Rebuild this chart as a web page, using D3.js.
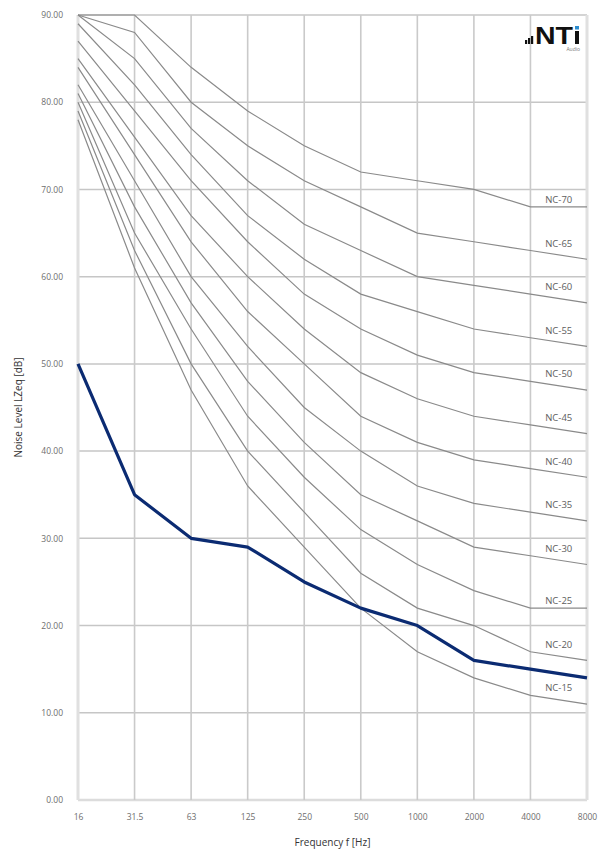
<!DOCTYPE html>
<html>
<head>
<meta charset="utf-8">
<script src="https://cdn.jsdelivr.net/npm/d3@7"></script>
<style>
  html, body { margin: 0; padding: 0; background: #fff; }
  svg { display: block; font-family: "Open Sans", "DejaVu Sans", sans-serif; }
</style>
</head>
<body>
<div id="chart"></div>
<script>
// octave band centre frequencies (category axis)
const FREQS = ['16', '31.5', '63', '125', '250', '500', '1000', '2000', '4000', '8000'];

// NC curves, levels per band in dB
const NC70 = [90, 90, 84, 79, 75, 72, 71, 70, 68, 68];
const NC65 = [90, 88, 80, 75, 71, 68, 65, 64, 63, 62];
const NC60 = [90, 85, 77, 71, 66, 63, 60, 59, 58, 57];
const NC55 = [89, 82, 74, 67, 62, 58, 56, 54, 53, 52];
const NC50 = [87, 79, 71, 64, 58, 54, 51, 49, 48, 47];
const NC45 = [85, 76, 67, 60, 54, 49, 46, 44, 43, 42];
const NC40 = [84, 74, 64, 56, 50, 44, 41, 39, 38, 37];
const NC35 = [82, 71, 60, 52, 45, 40, 36, 34, 33, 32];
const NC30 = [81, 68, 57, 48, 41, 35, 32, 29, 28, 27];
const NC25 = [80, 65, 54, 44, 37, 31, 27, 24, 22, 22];
const NC20 = [79, 63, 50, 40, 33, 26, 22, 20, 17, 16];
const NC15 = [78, 61, 47, 36, 29, 22, 17, 14, 12, 11];

const NC_NAMES = ['NC-70', 'NC-65', 'NC-60', 'NC-55', 'NC-50', 'NC-45', 'NC-40', 'NC-35', 'NC-30', 'NC-25', 'NC-20', 'NC-15'];
const NC_VALUES = [NC70, NC65, NC60, NC55, NC50, NC45, NC40, NC35, NC30, NC25, NC20, NC15];

// measured spectrum
const MEASURED = [50, 35, 30, 29, 25, 22, 20, 16, 15, 14];

const Y_TICKS = [0, 10, 20, 30, 40, 50, 60, 70, 80, 90];

const W = 606, H = 854;
const margin = { top: 15, right: 19, bottom: 54, left: 78 };

const svg = d3.select('#chart').append('svg')
  .attr('width', W)
  .attr('height', H);

const x = d3.scalePoint()
  .domain(FREQS)
  .range([margin.left, W - margin.right]);

const y = d3.scaleLinear()
  .domain([0, 90])
  .range([H - margin.bottom, margin.top]);

// grid
svg.append('g')
  .selectAll('line')
  .data(Y_TICKS)
  .join('line')
  .attr('x1', margin.left).attr('x2', W - margin.right)
  .attr('y1', d => y(d)).attr('y2', d => y(d))
  .attr('stroke', d => d === 0 ? '#dcdcdc' : '#c6c6c6')
  .attr('stroke-width', d => d === 0 ? 2.5 : 1.5);

svg.append('g')
  .selectAll('line')
  .data(FREQS)
  .join('line')
  .attr('x1', d => x(d)).attr('x2', d => x(d))
  .attr('y1', y(90)).attr('y2', y(0))
  .attr('stroke', (d, i) => (i === 0 || i === FREQS.length - 1) ? '#e0e0e0' : '#cacaca')
  .attr('stroke-width', (d, i) => (i === 0 || i === FREQS.length - 1) ? 3 : 1.6);

// y axis labels
svg.append('g')
  .call(d3.axisLeft(y).tickValues(Y_TICKS).tickFormat(d3.format('.2f')).tickSize(0).tickPadding(15))
  .attr('transform', `translate(${margin.left},0)`)
  .call(g => g.select('.domain').remove())
  .selectAll('text')
  .attr('font-family', '"Open Sans", sans-serif')
  .attr('font-size', 8.5)
  .attr('fill', '#6e6e6e');

// x axis labels
svg.append('g')
  .attr('transform', `translate(0,${y(0)})`)
  .call(d3.axisBottom(x).tickSize(0).tickPadding(14))
  .call(g => g.select('.domain').remove())
  .selectAll('text')
  .attr('font-family', '"Open Sans", sans-serif')
  .attr('font-size', 8.5)
  .attr('fill', '#6e6e6e');

// NC curves
const line = d3.line()
  .x((d, i) => x(FREQS[i]))
  .y(d => y(d));

svg.append('g')
  .selectAll('path')
  .data(NC_VALUES)
  .join('path')
  .attr('d', line)
  .attr('fill', 'none')
  .attr('stroke', '#8a8a8a')
  .attr('stroke-width', 1.2);

// NC labels between 4000 and 8000 Hz, just above the curve
const labelX = (x('4000') + x('8000')) / 2;
svg.append('g')
  .selectAll('text')
  .data(NC_NAMES)
  .join('text')
  .attr('x', labelX)
  .attr('y', (d, i) => y(NC_VALUES[i][8]) - 4)
  .attr('text-anchor', 'middle')
  .attr('font-family', '"Open Sans", sans-serif')
  .attr('font-size', 9.5)
  .attr('fill', '#5e5e5e')
  .text(d => d);

// measured curve
svg.append('path')
  .datum(MEASURED)
  .attr('d', line)
  .attr('fill', 'none')
  .attr('stroke', '#0b2b72')
  .attr('stroke-width', 3.2)
  .attr('stroke-linejoin', 'round');

// axis titles
svg.append('text')
  .attr('x', (x('16') + x('8000')) / 2)
  .attr('y', 846)
  .attr('text-anchor', 'middle')
  .attr('font-family', '"Open Sans", sans-serif')
  .attr('font-size', 10)
  .attr('fill', '#333')
  .text('Frequency f [Hz]');

svg.append('text')
  .attr('transform', `translate(22,${(y(0) + y(90)) / 2}) rotate(-90)`)
  .attr('text-anchor', 'middle')
  .attr('font-family', '"Open Sans", sans-serif')
  .attr('font-size', 10)
  .attr('fill', '#333')
  .text('Noise Level LZeq [dB]');

// NTi logo
const logo = svg.append('g').attr('transform', 'translate(522,26)');
[[3, 4], [6, 6], [9, 8]].forEach(([bx, bh]) => {
  logo.append('rect')
    .attr('x', bx).attr('y', 18 - bh)
    .attr('width', 2.2).attr('height', bh)
    .attr('fill', '#111');
});
logo.append('text')
  .attr('x', 13).attr('y', 18)
  .attr('font-family', '"Liberation Sans", Arial, sans-serif')
  .attr('font-weight', 'bold')
  .attr('font-size', 24)
  .attr('textLength', 38)
  .attr('lengthAdjust', 'spacingAndGlyphs')
  .attr('fill', '#111')
  .text('NT');
logo.append('rect')
  .attr('x', 53).attr('y', 5)
  .attr('width', 4).attr('height', 13)
  .attr('fill', '#111');
logo.append('rect')
  .attr('x', 53).attr('y', 0)
  .attr('width', 4).attr('height', 3.5)
  .attr('fill', '#2b8ccf');
logo.append('text')
  .attr('x', 58).attr('y', 25)
  .attr('text-anchor', 'end')
  .attr('font-family', '"Open Sans", sans-serif')
  .attr('font-size', 5)
  .attr('fill', '#777')
  .text('Audio');
</script>
</body>
</html>
